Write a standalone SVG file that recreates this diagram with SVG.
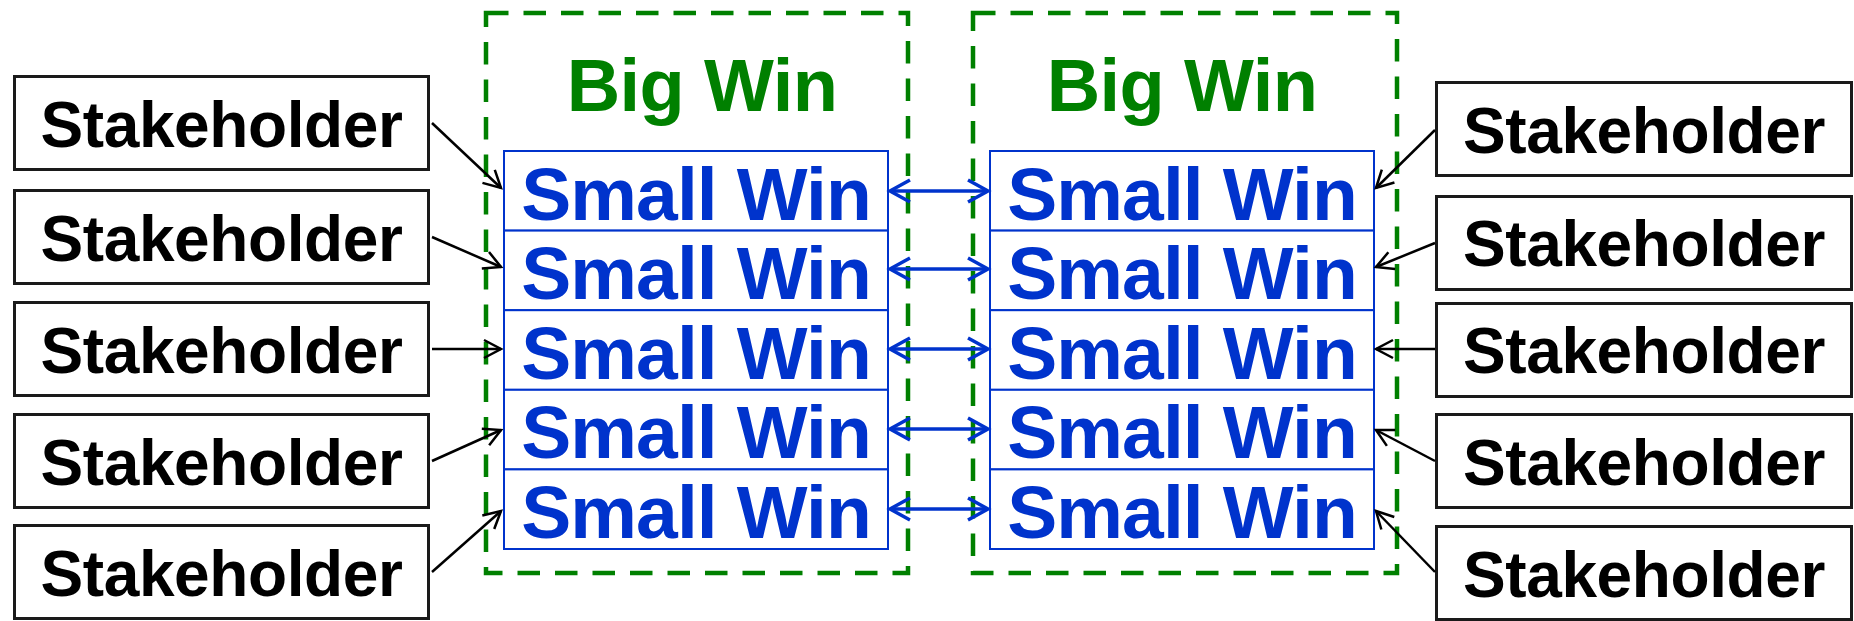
<svg xmlns="http://www.w3.org/2000/svg" width="1854" height="621" viewBox="0 0 1854 621">
<style>
.sh rect{fill:#fff;stroke:#1a1a1a;stroke-width:3}
.sh text{font-family:"Liberation Sans",Arial,sans-serif;font-weight:bold;font-size:64px;letter-spacing:-0.4px;fill:#000;text-anchor:middle}
.big rect{fill:none;stroke:#008000;stroke-width:4.5;stroke-dasharray:22.5 15}
.big text{font-family:"Liberation Sans",Arial,sans-serif;font-weight:bold;font-size:74px;letter-spacing:-0.6px;fill:#008000;text-anchor:middle}
.sw rect{fill:#fff;stroke:#0033CC;stroke-width:2}
.sw text{font-family:"Liberation Sans",Arial,sans-serif;font-weight:bold;font-size:75px;letter-spacing:-0.9px;fill:#0033CC;text-anchor:middle}
.blk{stroke:#000;stroke-width:2.5;fill:none;marker-end:url(#ah)}
.blu{stroke:#0033CC;stroke-width:3.5;fill:none;marker-start:url(#bh);marker-end:url(#bh)}
</style>
<defs>
<marker id="ah" markerUnits="userSpaceOnUse" markerWidth="24" markerHeight="24" viewBox="0 0 24 24" refX="20" refY="12" orient="auto">
<path d="M3,3 L20,12 L3,21" fill="none" stroke="#000" stroke-width="2.5"/>
</marker>
<marker id="bh" markerUnits="userSpaceOnUse" markerWidth="28" markerHeight="28" viewBox="0 0 28 28" refX="23" refY="14" orient="auto-start-reverse">
<path d="M3,3 L23,14 L3,25" fill="none" stroke="#0033CC" stroke-width="3.5"/>
</marker>
</defs>

<g id="bigwin-left" class="big">
<rect x="486" y="13" width="422" height="560"/>
<text x="702" y="111">Big Win</text>
</g>
<g id="bigwin-right" class="big">
<rect x="973" y="13" width="424" height="560"/>
<text x="1182" y="111">Big Win</text>
</g>

<g id="smallwin-left" class="sw">
<g id="swL1"><rect x="504" y="151" width="384" height="79.6"/><text x="696" y="219.5">Small Win</text></g>
<g id="swL2"><rect x="504" y="230.6" width="384" height="79.6"/><text x="696" y="299">Small Win</text></g>
<g id="swL3"><rect x="504" y="310.2" width="384" height="79.6"/><text x="696" y="378.5">Small Win</text></g>
<g id="swL4"><rect x="504" y="389.8" width="384" height="79.6"/><text x="696" y="458">Small Win</text></g>
<g id="swL5"><rect x="504" y="469.4" width="384" height="79.6"/><text x="696" y="537.5">Small Win</text></g>
</g>
<g id="smallwin-right" class="sw">
<g id="swR1"><rect x="990" y="151" width="384" height="79.6"/><text x="1182" y="219.5">Small Win</text></g>
<g id="swR2"><rect x="990" y="230.6" width="384" height="79.6"/><text x="1182" y="299">Small Win</text></g>
<g id="swR3"><rect x="990" y="310.2" width="384" height="79.6"/><text x="1182" y="378.5">Small Win</text></g>
<g id="swR4"><rect x="990" y="389.8" width="384" height="79.6"/><text x="1182" y="458">Small Win</text></g>
<g id="swR5"><rect x="990" y="469.4" width="384" height="79.6"/><text x="1182" y="537.5">Small Win</text></g>
</g>

<g id="stakeholders-left" class="sh">
<g id="shL1"><rect x="14.5" y="76.5" width="414" height="93"/><text x="221.5" y="147">Stakeholder</text></g>
<g id="shL2"><rect x="14.5" y="190.5" width="414" height="93"/><text x="221.5" y="260.5">Stakeholder</text></g>
<g id="shL3"><rect x="14.5" y="302.5" width="414" height="93"/><text x="221.5" y="372.5">Stakeholder</text></g>
<g id="shL4"><rect x="14.5" y="414.5" width="414" height="93"/><text x="221.5" y="484.5">Stakeholder</text></g>
<g id="shL5"><rect x="14.5" y="525.5" width="414" height="93"/><text x="221.5" y="595.5">Stakeholder</text></g>
</g>
<g id="stakeholders-right" class="sh">
<g id="shR1"><rect x="1436.5" y="82.5" width="415" height="93"/><text x="1644" y="153">Stakeholder</text></g>
<g id="shR2"><rect x="1436.5" y="196.5" width="415" height="93"/><text x="1644" y="266">Stakeholder</text></g>
<g id="shR3"><rect x="1436.5" y="303.5" width="415" height="93"/><text x="1644" y="373">Stakeholder</text></g>
<g id="shR4"><rect x="1436.5" y="414.5" width="415" height="93"/><text x="1644" y="484.5">Stakeholder</text></g>
<g id="shR5"><rect x="1436.5" y="526.5" width="415" height="93"/><text x="1644" y="596.5">Stakeholder</text></g>
</g>

<g id="connectors">
<line class="blk" x1="432" y1="123" x2="501" y2="188"/>
<line class="blk" x1="432" y1="237" x2="501" y2="267"/>
<line class="blk" x1="432" y1="349" x2="501" y2="349"/>
<line class="blk" x1="432" y1="461" x2="501" y2="430"/>
<line class="blk" x1="432" y1="572" x2="501" y2="511"/>
<line class="blk" x1="1435" y1="130" x2="1376" y2="188"/>
<line class="blk" x1="1435" y1="243" x2="1376" y2="267"/>
<line class="blk" x1="1435" y1="349" x2="1376" y2="349"/>
<line class="blk" x1="1435" y1="461" x2="1376" y2="430"/>
<line class="blk" x1="1435" y1="572" x2="1376" y2="511"/>
<line class="blu" x1="890" y1="191" x2="988" y2="191"/>
<line class="blu" x1="890" y1="269" x2="988" y2="269"/>
<line class="blu" x1="890" y1="349" x2="988" y2="349"/>
<line class="blu" x1="890" y1="429" x2="988" y2="429"/>
<line class="blu" x1="890" y1="509" x2="988" y2="509"/>
</g>
</svg>
